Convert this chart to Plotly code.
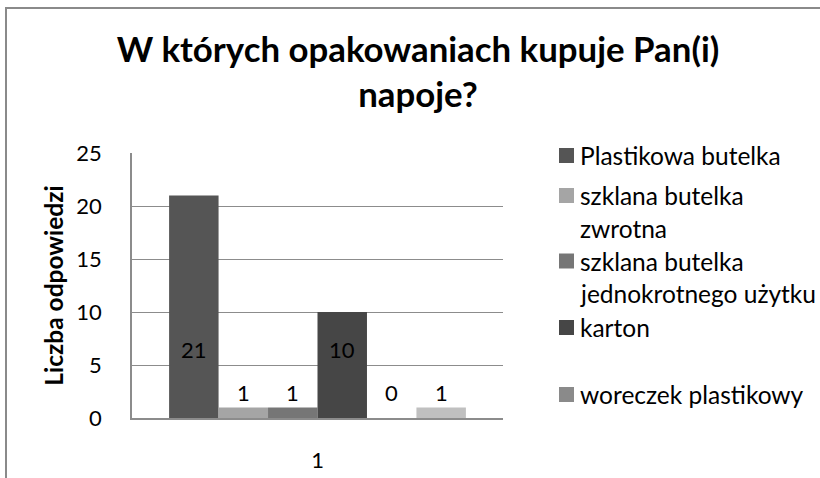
import plotly.graph_objects as go

# ---- data ----
categories = ["1"]
series_names = [
    "Plastikowa butelka",
    "szklana butelka zwrotna",
    "szklana butelka jednokrotnego użytku",
    "karton",
    "woreczek plastikowy",
    "inne",
]
legend_labels = [
    "Plastikowa butelka",
    "szklana butelka<br>zwrotna",
    "szklana butelka<br>jednokrotnego użytku",
    "karton",
    "woreczek plastikowy",
]
series_values = [21, 1, 1, 10, 0, 1]
y_ticks = [0, 5, 10, 15, 20, 25]
title_text = "W których opakowaniach kupuje Pan(i)<br>napoje?"
y_title = "Liczba odpowiedzi"

colors = ["#555555", "#a5a5a5", "#767676", "#464646", "#8a8a8a", "#c0c0c0"]

FONT = "Lato"
W, H = 820, 478
L, R, T, B = 132, 317, 153, 60
PW, PH = W - L - R, H - T - B


def px_x(px):
    return (px - L) / PW


def px_y(py):
    return (H - B - py) / PH


fig = go.Figure()
for name, val, col in zip(series_names, series_values, colors):
    fig.add_trace(go.Bar(x=categories, y=[val], name=name, marker_color=col,
                         marker_line_width=0, showlegend=False))

n = len(series_values)
group_w = 0.8
annotations = []
for i, val in enumerate(series_values):
    xc = -group_w / 2 + (i + 0.5) * group_w / n
    ly = 6.5 if val >= 5 else 2.45
    annotations.append(dict(x=xc, y=ly, xref="x", yref="y", text=str(val),
                            showarrow=False, font=dict(size=22, color="#000000", family=FONT)))

# manual legend (names from legend_labels)
legend_rows = [155.5, 195.5, 261, 327.5, 394.5]
shapes = []
for lab, col, row in zip(legend_labels, colors, legend_rows):
    shapes.append(dict(type="rect", xref="paper", yref="paper",
                       x0=px_x(559), x1=px_x(574), y0=px_y(row + 7.5), y1=px_y(row - 7.5),
                       fillcolor=col, line_width=0))
    lines = lab.split("<br>")
    for k, ln in enumerate(lines):
        annotations.append(dict(x=px_x(578), y=px_y(row + k * 32.5), xref="paper", yref="paper",
                                text=ln, showarrow=False, xanchor="left", yanchor="middle",
                                font=dict(size=24.5, color="#000000", family=FONT)))

# outer chart border (clipped at right/bottom like the reference)
shapes.append(dict(type="rect", xref="paper", yref="paper",
                   x0=px_x(6), x1=px_x(W + 20), y0=px_y(H + 20), y1=px_y(8),
                   line=dict(color="#8a8a8a", width=2), fillcolor="rgba(0,0,0,0)"))

fig.update_layout(
    width=W, height=H,
    margin=dict(l=L, r=R, t=T, b=B, autoexpand=False),
    paper_bgcolor="white", plot_bgcolor="white",
    barmode="group", bargap=0.2, bargroupgap=0,
    title=dict(text=title_text, x=418 / W, xanchor="center",
               y=1 - 62 / H, yanchor="middle",
               font=dict(family=FONT, size=34.8, color="#000000", weight="bold")),
    font=dict(family=FONT, size=22, color="#000000"),
    annotations=annotations,
    shapes=shapes,
    showlegend=False,
)
fig.update_yaxes(range=[0, 25], tickvals=y_ticks, showgrid=True, gridcolor="#8c8c8c",
                 gridwidth=1, showline=True, linecolor="#8c8c8c", linewidth=1.5,
                 zeroline=False, ticks="", ticklabelstandoff=24, automargin=False,
                 tickfont=dict(size=22, family=FONT),
                 title=dict(text="<b>" + y_title + "</b>", standoff=6,
                            font=dict(size=24.5, family=FONT)))
fig.update_xaxes(showline=True, linecolor="#8c8c8c", linewidth=1.5, showgrid=False,
                 ticks="", ticklabelstandoff=22, tickfont=dict(size=22, family=FONT),
                 automargin=False, range=[-0.5, 0.5])

fig.write_html("out.html", config={"displayModeBar": False},
               post_script="document.body.style.margin='0';document.body.style.overflow='hidden';")
